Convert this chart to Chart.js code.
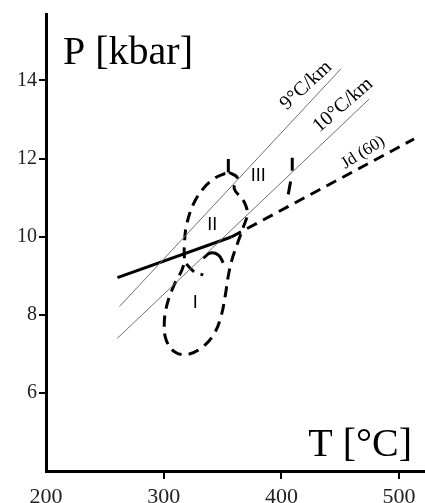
<!DOCTYPE html>
<html><head><meta charset="utf-8">
<script src="https://cdn.jsdelivr.net/npm/chart.js@4/dist/chart.umd.min.js"></script>
<style>html,body{margin:0;padding:0;background:#fff;overflow:hidden}#wrap{width:425px;height:503px}</style>
</head><body><div id="wrap"><canvas id="c" width="425" height="503"></canvas></div>
<script>
// ---- axis ticks ----
const xTicks = [200, 300, 400, 500];
const yTicks = [6, 8, 10, 12, 14];

// ---- geotherms (T in °C, P in kbar) ----
const geo9T = [262.4, 450.7];
const geo9P = [8.21, 14.30];
const geo10T = [260.7, 474.5];
const geo10P = [7.40, 13.52];

// ---- reaction line (solid part) and Jd(60) isopleth (dashed part) ----
const reactT = [260.7, 357.4];
const reactP = [8.95, 9.99];
const jdT = [357.4, 512.7];
const jdP = [9.99, 12.50];

// ---- P-T fields I + II outline (dashed) ----
const fieldT = [355.7, 362.5, 359.9, 367.6, 371.0, 367.6, 362.5, 358.2, 354.9, 352.3, 348.9, 343.0, 332.8, 320.9, 309.9, 302.2, 300.5, 303.1, 309.0, 316.7, 317.5, 319.2, 325.2, 333.6, 343.0, 349.8, 355.7];
const fieldP = [11.64, 11.51, 11.23, 10.93, 10.60, 10.24, 9.81, 9.43, 9.00, 8.49, 7.98, 7.52, 7.17, 6.99, 7.04, 7.35, 7.80, 8.29, 8.77, 9.25, 9.76, 10.27, 10.83, 11.23, 11.49, 11.59, 11.64];
// separator between I and II
const waistT = [319.2, 326.0, 333.6];
const waistP = [9.30, 9.10, 9.02];
const arcT = [333.6, 339.6, 346.4, 350.6];
const arcP = [9.45, 9.58, 9.53, 9.33];
// boundaries of field III
const tickLT = [354.9, 354.9];
const tickLP = [11.99, 11.64];
const bound3T = [409.2, 409.2, 407.5, 404.1];
const bound3P = [12.02, 11.66, 11.36, 10.80];

// ---- labels ----
const lineLabels = ['9°C/km', '10°C/km', 'Jd (60)'];
const lineLabelT = [421.0, 452.4, 469.4];
const lineLabelP = [13.87, 13.37, 12.15];
const lineLabelAngle = [-43, -41, -32];
const fieldLabels = ['III', 'II', 'I'];
const fieldLabelT = [380.3, 341.3, 326.9];
const fieldLabelP = [11.56, 10.29, 8.29];

const xy = (T, P) => T.map((t, i) => ({x: t, y: P[i]}));
const base = {showLine: true, pointRadius: 0, fill: false, borderCapStyle: 'butt'};
const thin = Object.assign({}, base, {borderColor: '#707070', borderWidth: 1});
const thick = Object.assign({}, base, {borderColor: '#000', borderWidth: 3});
const dashed = Object.assign({}, thick, {borderDash: [11, 7]});

const textPlugin = {
  id: 'texts',
  afterDraw(chart) {
    const ctx = chart.ctx, xs = chart.scales.x, ys = chart.scales.y, a = chart.chartArea;
    ctx.save();
    ctx.fillStyle = '#000';
    ctx.textBaseline = 'alphabetic';
    ctx.font = '40px "Liberation Serif"';
    ctx.textAlign = 'left';
    ctx.fillText('P [kbar]', a.left + 17, a.top + 50);
    ctx.textAlign = 'right';
    ctx.fillText('T [°C]', a.right - 13, a.bottom - 15);
    ctx.textAlign = 'center';
    ctx.textBaseline = 'middle';
    lineLabels.forEach((t, i) => {
      ctx.save();
      ctx.translate(xs.getPixelForValue(lineLabelT[i]), ys.getPixelForValue(lineLabelP[i]));
      ctx.rotate(lineLabelAngle[i] * Math.PI / 180);
      ctx.font = (i === 2 ? '17px' : '20px') + ' "Liberation Serif"';
      ctx.fillText(t, 0, 0);
      ctx.restore();
    });
    ctx.font = '18px "Liberation Sans"';
    fieldLabels.forEach((t, i) => {
      ctx.fillText(t, xs.getPixelForValue(fieldLabelT[i]), ys.getPixelForValue(fieldLabelP[i]));
    });
    ctx.restore();
  }
};

new Chart(document.getElementById('c'), {
  type: 'scatter',
  data: {datasets: [
    Object.assign({data: xy(geo9T, geo9P)}, thin),
    Object.assign({data: xy(geo10T, geo10P)}, thin),
    Object.assign({data: xy(reactT, reactP)}, thick),
    Object.assign({data: xy(jdT, jdP)}, dashed),
    Object.assign({data: xy(fieldT, fieldP), tension: 0.4}, dashed),
    Object.assign({data: xy(waistT, waistP), tension: 0.4}, dashed),
    Object.assign({data: xy(arcT, arcP), tension: 0.4}, thick),
    Object.assign({data: xy(tickLT, tickLP)}, thick),
    Object.assign({data: xy(bound3T, bound3P), borderDash: [13, 11]}, thick)
  ]},
  options: {
    responsive: false, animation: false,
    layout: {padding: {top: 13, right: 0, left: 0, bottom: 0}},
    plugins: {legend: {display: false}, tooltip: {enabled: false}},
    scales: {
      x: {
        type: 'linear', min: 200, max: 522,
        afterBuildTicks: s => { s.ticks = xTicks.map(v => ({value: v})); },
        afterFit: s => { s.height = 32; },
        border: {display: true, color: '#000', width: 3},
        grid: {display: true, drawOnChartArea: false, drawTicks: true, tickLength: 8, lineWidth: 2,
               color: c => (c.tick && c.tick.value === 200) ? 'rgba(0,0,0,0)' : '#000'},
        ticks: {color: '#222', font: {family: '"Liberation Serif"', size: 22}, padding: 5, maxRotation: 0, autoSkip: false}
      },
      y: {
        type: 'linear', min: 4, max: 15.7,
        afterBuildTicks: s => { s.ticks = yTicks.map(v => ({value: v})); },
        afterFit: s => { s.width = 46; },
        border: {display: true, color: '#000', width: 3},
        grid: {display: true, drawOnChartArea: false, drawTicks: true, tickLength: 7, lineWidth: 2, color: '#000'},
        ticks: {color: '#222', font: {family: '"Liberation Serif"', size: 20}, padding: 2, autoSkip: false}
      }
    }
  },
  plugins: [textPlugin]
});
</script></body></html>
